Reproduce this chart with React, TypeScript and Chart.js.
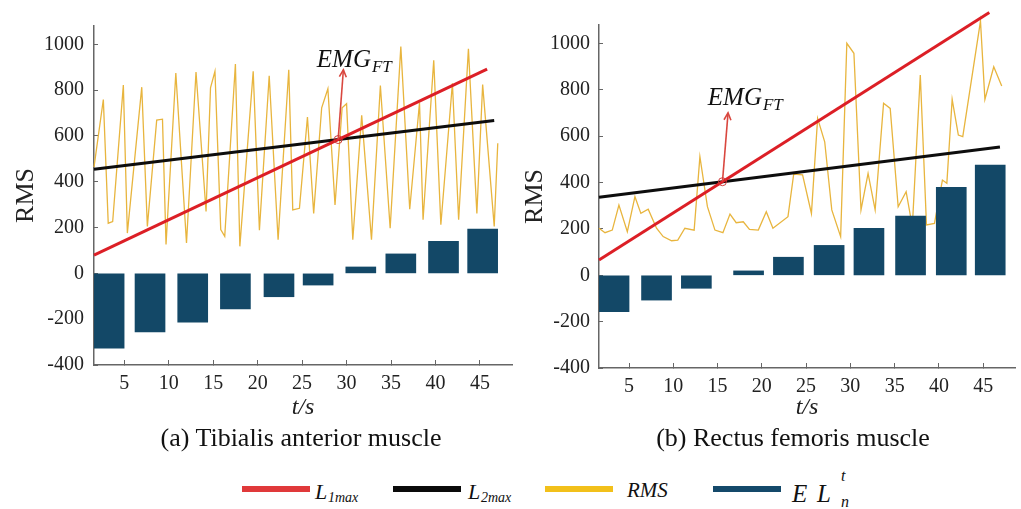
import { useEffect, useRef } from "react";
import { Chart, registerables } from "chart.js";

Chart.register(...registerables);

const SERIF = '"Liberation Serif", "Times New Roman", "DejaVu Serif", serif';
Chart.defaults.font.family = SERIF;

// ---- shared axis ticks ----
const xTicks = [5, 10, 15, 20, 25, 30, 35, 40, 45];
const yTicks = [-400, -200, 0, 200, 400, 600, 800, 1000];

// ---- (a) Tibialis anterior muscle ----
const aRmsT = [1.6, 2.65, 3.2, 3.7, 4.9, 5.35, 6.97, 7.6, 8.65, 9.3, 9.7, 10.8, 12.0, 13.07, 14.2, 14.7, 15.2, 15.85, 16.3, 17.5, 18.0, 19.5, 20.2, 21.3, 22.3, 23.5, 23.95, 24.7, 25.6, 26.3, 27.2, 27.9, 28.7, 29.5, 30.0, 30.7, 31.7, 32.8, 33.8, 34.9, 36.1, 37.1, 38.2, 38.6, 39.8, 40.6, 41.9, 42.6, 43.7, 44.65, 45.3, 46.6, 47.0];
const aRmsV = [464, 759, 219, 226, 822, 176, 813, 205, 669, 673, 126, 875, 133, 879, 270, 810, 882, 191, 162, 914, 118, 882, 188, 863, 147, 889, 277, 284, 683, 262, 723, 806, 299, 723, 741, 147, 690, 147, 820, 197, 990, 280, 745, 234, 930, 212, 830, 234, 980, 262, 824, 205, 568];
const aL1T = [1.6, 45.8];
const aL1V = [80, 892];
const aL2T = [1.6, 46.6];
const aL2V = [455, 667];
const aBarT = [3.3, 7.9, 12.7, 17.5, 22.4, 26.8, 31.6, 36.1, 40.9, 45.3];
const aBarV = [-327, -256, -213, -155, -102, -51, 28, 85, 140, 193];
const aArrowTip = [29.64, 889];
const aLabelAt = [26.65, 900];

// ---- (b) Rectus femoris muscle ----
const bRmsT = [1.6, 2.28, 3.1, 3.85, 4.8, 5.66, 6.33, 7.16, 8.1, 8.85, 9.8, 10.5, 11.3, 12.35, 13.0, 13.85, 14.7, 15.6, 16.4, 17.1, 17.9, 18.6, 19.6, 20.5, 21.25, 22.95, 23.6, 24.6, 25.6, 26.3, 27.1, 27.9, 28.9, 29.6, 30.4, 31.2, 32.0, 32.8, 33.75, 34.5, 35.4, 36.3, 37.0, 37.9, 38.6, 39.5, 40.4, 40.9, 41.5, 42.2, 42.7, 44.7, 45.2, 46.2, 47.1];
const bRmsV = [203, 184, 195, 303, 188, 339, 267, 285, 203, 167, 149, 152, 203, 195, 512, 296, 195, 184, 264, 227, 231, 198, 195, 274, 203, 253, 437, 433, 267, 677, 576, 282, 167, 1001, 958, 282, 440, 282, 742, 720, 296, 361, 210, 864, 217, 224, 411, 397, 759, 605, 598, 1097, 759, 900, 817];
const bL1T = [1.6, 45.7];
const bL1V = [66, 1134];
const bL2T = [1.6, 46.9];
const bL2V = [337, 554];
const bBarT = [3.3, 8.1, 12.6, 18.5, 23.0, 27.6, 32.1, 36.8, 41.4, 45.8];
const bBarV = [-157, -107, -56, 19, 78, 129, 203, 256, 380, 476];
const bArrowTip = [16.18, 701];
const bLabelAt = [13.89, 735];

const RED = "#dc1f26";
const BLACK = "#0d0d0d";
const YELLOW = "#e8b53e";
const BLUE = "#134867";
const AXIS = "#666";

const zip = (xs: number[], ys: number[]) => xs.map((x, i) => ({ x, y: ys[i] }));

const emgPlugin = {
  id: "emgMarker",
  afterDatasetsDraw(chart: any, _args: any, opts: any) {
    const { ctx } = chart;
    const xs = chart.scales.x;
    const ys = chart.scales.y;
    const d1 = chart.data.datasets[0].data;
    const d2 = chart.data.datasets[1].data;
    const s1 = (d1[1].y - d1[0].y) / (d1[1].x - d1[0].x);
    const s2 = (d2[1].y - d2[0].y) / (d2[1].x - d2[0].x);
    const xi = (d2[0].y - d1[0].y + s1 * d1[0].x - s2 * d2[0].x) / (s1 - s2);
    const yi = d1[0].y + s1 * (xi - d1[0].x);
    const px = xs.getPixelForValue(xi);
    const py = ys.getPixelForValue(yi);
    const tx = xs.getPixelForValue(opts.tip[0]);
    const ty = ys.getPixelForValue(opts.tip[1]);
    ctx.save();
    ctx.strokeStyle = "#d9473f";
    ctx.lineWidth = 1.6;
    ctx.beginPath();
    ctx.moveTo(px, py);
    ctx.lineTo(tx, ty);
    ctx.stroke();
    const ang = Math.atan2(ty - py, tx - px);
    const hl = 8;
    ctx.beginPath();
    ctx.moveTo(tx - hl * Math.cos(ang - 0.45), ty - hl * Math.sin(ang - 0.45));
    ctx.lineTo(tx, ty);
    ctx.lineTo(tx - hl * Math.cos(ang + 0.45), ty - hl * Math.sin(ang + 0.45));
    ctx.stroke();
    ctx.lineWidth = 1;
    ctx.strokeStyle = "#d03a3a";
    ctx.beginPath();
    ctx.arc(px, py, 4, 0, Math.PI * 2);
    ctx.stroke();
    const lx = xs.getPixelForValue(opts.label[0]);
    const ly = ys.getPixelForValue(opts.label[1]);
    ctx.fillStyle = "#111";
    ctx.textAlign = "left";
    ctx.textBaseline = "alphabetic";
    ctx.font = `italic 25px ${SERIF}`;
    ctx.fillText("EMG", lx, ly);
    const w = ctx.measureText("EMG").width;
    ctx.font = `italic 17px ${SERIF}`;
    ctx.fillText("FT", lx + w + 1, ly + 5);
    ctx.restore();
  },
};

function build(p: any, g: any): any {
  return {
    type: "bar",
    data: {
      datasets: [
        { type: "line", label: "L1max", data: zip(p.l1T, p.l1V), borderColor: RED, borderWidth: 3, pointRadius: 0, order: 0, clip: false },
        { type: "line", label: "L2max", data: zip(p.l2T, p.l2V), borderColor: BLACK, borderWidth: 3, pointRadius: 0, order: 1, clip: false },
        { type: "bar", label: "E L", data: zip(p.barT, p.barV), backgroundColor: BLUE, barThickness: 30, order: 2 },
        { type: "line", label: "RMS", data: zip(p.rmsT, p.rmsV), borderColor: YELLOW, borderWidth: 1.3, pointRadius: 0, order: 3, clip: false, tension: 0 },
      ],
    },
    options: {
      responsive: false,
      animation: false,
      events: [],
      layout: { padding: { left: 0, right: g.padRight, top: g.padTop, bottom: 0 } },
      plugins: {
        legend: { display: false },
        tooltip: { enabled: false },
        emgMarker: { tip: p.tip, label: p.label },
      },
      scales: {
        x: {
          type: "linear",
          min: 1.6,
          max: 48.6,
          offset: false,
          afterBuildTicks: (s: any) => {
            s.ticks = xTicks.map((v) => ({ value: v }));
          },
          afterFit: (s: any) => {
            s.height = g.xAxisHeight;
          },
          grid: { display: true, drawOnChartArea: false, drawTicks: true, tickLength: -5, color: AXIS, offset: false },
          border: { display: true, color: AXIS, width: 1.5 },
          ticks: { font: { family: SERIF, size: 20 }, color: "#222", padding: 12, maxRotation: 0, autoSkip: false, callback: (v: any) => String(v) },
          title: { display: true, text: "t/s", color: "#222", font: { family: SERIF, size: 24, style: "italic" }, padding: { top: 0, bottom: 38 } },
        },
        y: {
          type: "linear",
          min: -400,
          max: 1080,
          afterBuildTicks: (s: any) => {
            s.ticks = yTicks.map((v) => ({ value: v }));
          },
          afterFit: (s: any) => {
            s.width = g.yAxisWidth;
          },
          grid: { display: true, drawOnChartArea: false, drawTicks: true, tickLength: -4, color: AXIS },
          border: { display: true, color: AXIS, width: 1.5 },
          ticks: { font: { family: SERIF, size: 20 }, color: "#222", padding: g.yTickPad, callback: (v: any) => String(v) },
          title: { display: true, text: "RMS", color: "#222", font: { family: SERIF, size: 26 }, padding: { top: g.yTitlePad, bottom: 0 } },
        },
      },
    },
    plugins: [emgPlugin],
  };
}

const panelA = { rmsT: aRmsT, rmsV: aRmsV, l1T: aL1T, l1V: aL1V, l2T: aL2T, l2V: aL2V, barT: aBarT, barV: aBarV, tip: aArrowTip, label: aLabelAt };
const panelB = { rmsT: bRmsT, rmsV: bRmsV, l1T: bL1T, l1V: bL1V, l2T: bL2T, l2V: bL2V, barT: bBarT, barV: bBarV, tip: bArrowTip, label: bLabelAt };

const geomA = { padRight: 8, padTop: 22.5, xAxisHeight: 95, yAxisWidth: 94, yTickPad: 14, yTitlePad: 11 };
const geomB = { padRight: 6, padTop: 25, xAxisHeight: 92, yAxisWidth: 79, yTickPad: 13, yTitlePad: 0 };

function Txt(props: { left: number; base: number; size: number; italic?: boolean; children: any; width?: number }) {
  const { left, base, size, italic, children, width } = props;
  return (
    <div
      style={{
        position: "absolute",
        left,
        top: base - 0.8375 * size,
        fontSize: size,
        lineHeight: `${size}px`,
        fontStyle: italic ? "italic" : "normal",
        fontFamily: SERIF,
        whiteSpace: "nowrap",
        width,
        textAlign: width ? "center" : "left",
        color: "#111",
      }}
    >
      {children}
    </div>
  );
}

function Swatch(props: { left: number; color: string }) {
  return <div style={{ position: "absolute", left: props.left, top: 486, width: 68, height: 6, background: props.color }} />;
}

export default function App() {
  const leftRef = useRef<HTMLCanvasElement>(null);
  const rightRef = useRef<HTMLCanvasElement>(null);
  useEffect(() => {
    const c1 = new Chart(leftRef.current as HTMLCanvasElement, build(panelA, geomA));
    const c2 = new Chart(rightRef.current as HTMLCanvasElement, build(panelB, geomB));
    return () => {
      c1.destroy();
      c2.destroy();
    };
  }, []);
  return (
    <div style={{ position: "fixed", left: 0, top: 0, width: 1021, height: 509, background: "#fff", overflow: "hidden", fontFamily: SERIF }}>
      <canvas ref={leftRef} width={520} height={460} style={{ position: "absolute", left: 0, top: 0, width: 520, height: 460 }} />
      <canvas ref={rightRef} width={501} height={460} style={{ position: "absolute", left: 520, top: 0, width: 501, height: 460 }} />
      <Txt left={101} width={400} base={447} size={26}>(a) Tibialis anterior muscle</Txt>
      <Txt left={593} width={400} base={447} size={26}>(b) Rectus femoris muscle</Txt>

      <Swatch left={242} color="#e0393a" />
      <Txt left={315} base={499} size={22} italic>L</Txt>
      <Txt left={328} base={503} size={14} italic>1max</Txt>

      <Swatch left={393} color="#0a0a0a" />
      <Txt left={468} base={499} size={22} italic>L</Txt>
      <Txt left={481} base={503} size={14} italic>2max</Txt>

      <Swatch left={545} color="#f2c01a" />
      <Txt left={627} base={498} size={21} italic>RMS</Txt>

      <Swatch left={713} color="#14496a" />
      <Txt left={792} base={502} size={25} italic>E</Txt>
      <Txt left={817} base={502} size={25} italic>L</Txt>
      <Txt left={841} base={481} size={16} italic>t</Txt>
      <Txt left={841} base={507} size={16} italic>n</Txt>
    </div>
  );
}
